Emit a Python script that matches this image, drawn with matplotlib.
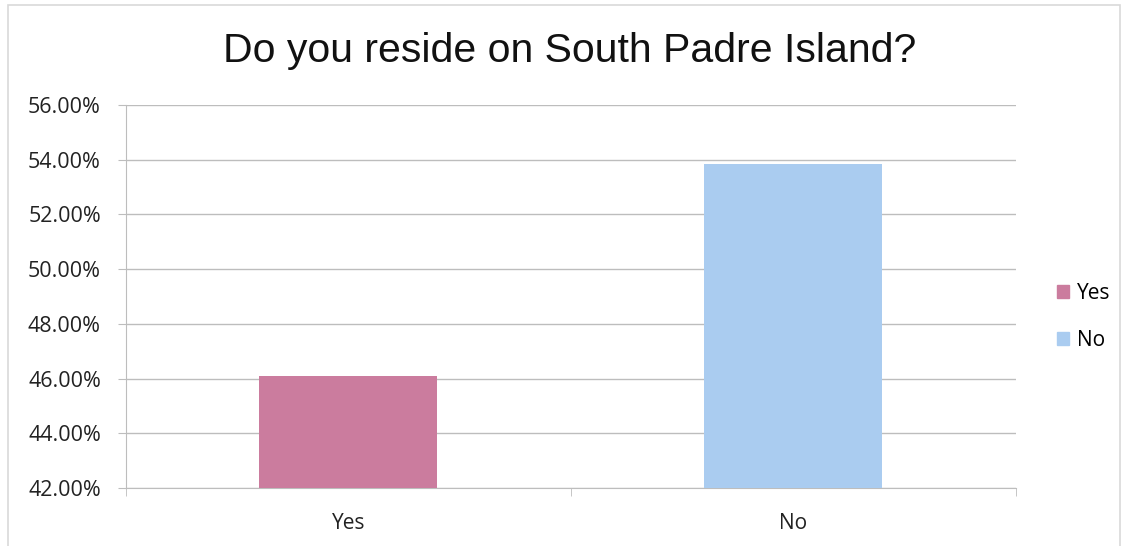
import matplotlib
matplotlib.use('Agg')
import matplotlib.pyplot as plt
from matplotlib.patches import Rectangle, Patch
from matplotlib.ticker import FuncFormatter, FixedLocator

# data
categories = ['Yes', 'No']
values = [46.1, 53.85]
colors = ['#CB7C9E', '#AACCF0']
y_ticks = [42, 44, 46, 48, 50, 52, 54, 56]

plt.rcParams['font.family'] = ['Open Sans', 'DejaVu Sans']

fig = plt.figure(figsize=(11.28, 5.46), dpi=100)
ax = fig.add_axes([0.1117, 0.1062, 0.7890, 0.7015])

x = list(range(len(categories)))
ax.bar(x, values, width=0.4, color=colors, zorder=3)

ax.set_xlim(-0.5, len(categories) - 0.5)
ax.set_ylim(y_ticks[0], y_ticks[-1])
ax.set_yticks(y_ticks)
ax.yaxis.set_major_formatter(FuncFormatter(lambda v, p: '%.2f%%' % v))
ax.set_xticks(x)
ax.set_xticklabels(categories)
ax.xaxis.set_minor_locator(FixedLocator([-0.5, 0.5, 1.5]))

ax.grid(axis='y', color='#BDBDBD', linewidth=1, zorder=0)
for s in ['top', 'right']:
    ax.spines[s].set_visible(False)
for s in ['left', 'bottom']:
    ax.spines[s].set_color('#BDBDBD')
ax.tick_params(axis='y', length=6, color='#BDBDBD', labelsize=15.5, pad=12, labelcolor='#222222')
ax.tick_params(axis='x', which='major', length=0, labelsize=15, pad=18, labelcolor='#222222')
ax.tick_params(axis='x', which='minor', length=6, color='#BDBDBD')

fig.text(0.505, 0.907, 'Do you reside on South Padre Island?', ha='center', va='center',
         fontsize=29.5, family='Liberation Sans', color='#111111')

handles = [Patch(color=c, label=l) for c, l in zip(colors, categories)]
fig.legend(handles=handles, loc='center left', bbox_to_anchor=(0.92, 0.42), frameon=False,
           fontsize=15, handlelength=0.6, handleheight=0.6, handletextpad=0.4, labelspacing=1.25)

fig.patches.append(Rectangle((0.007, -0.01), 0.986, 1.0, transform=fig.transFigure,
                             fill=False, edgecolor='#D9D9D9', linewidth=1.2))

fig.savefig('out.png', dpi=100)
